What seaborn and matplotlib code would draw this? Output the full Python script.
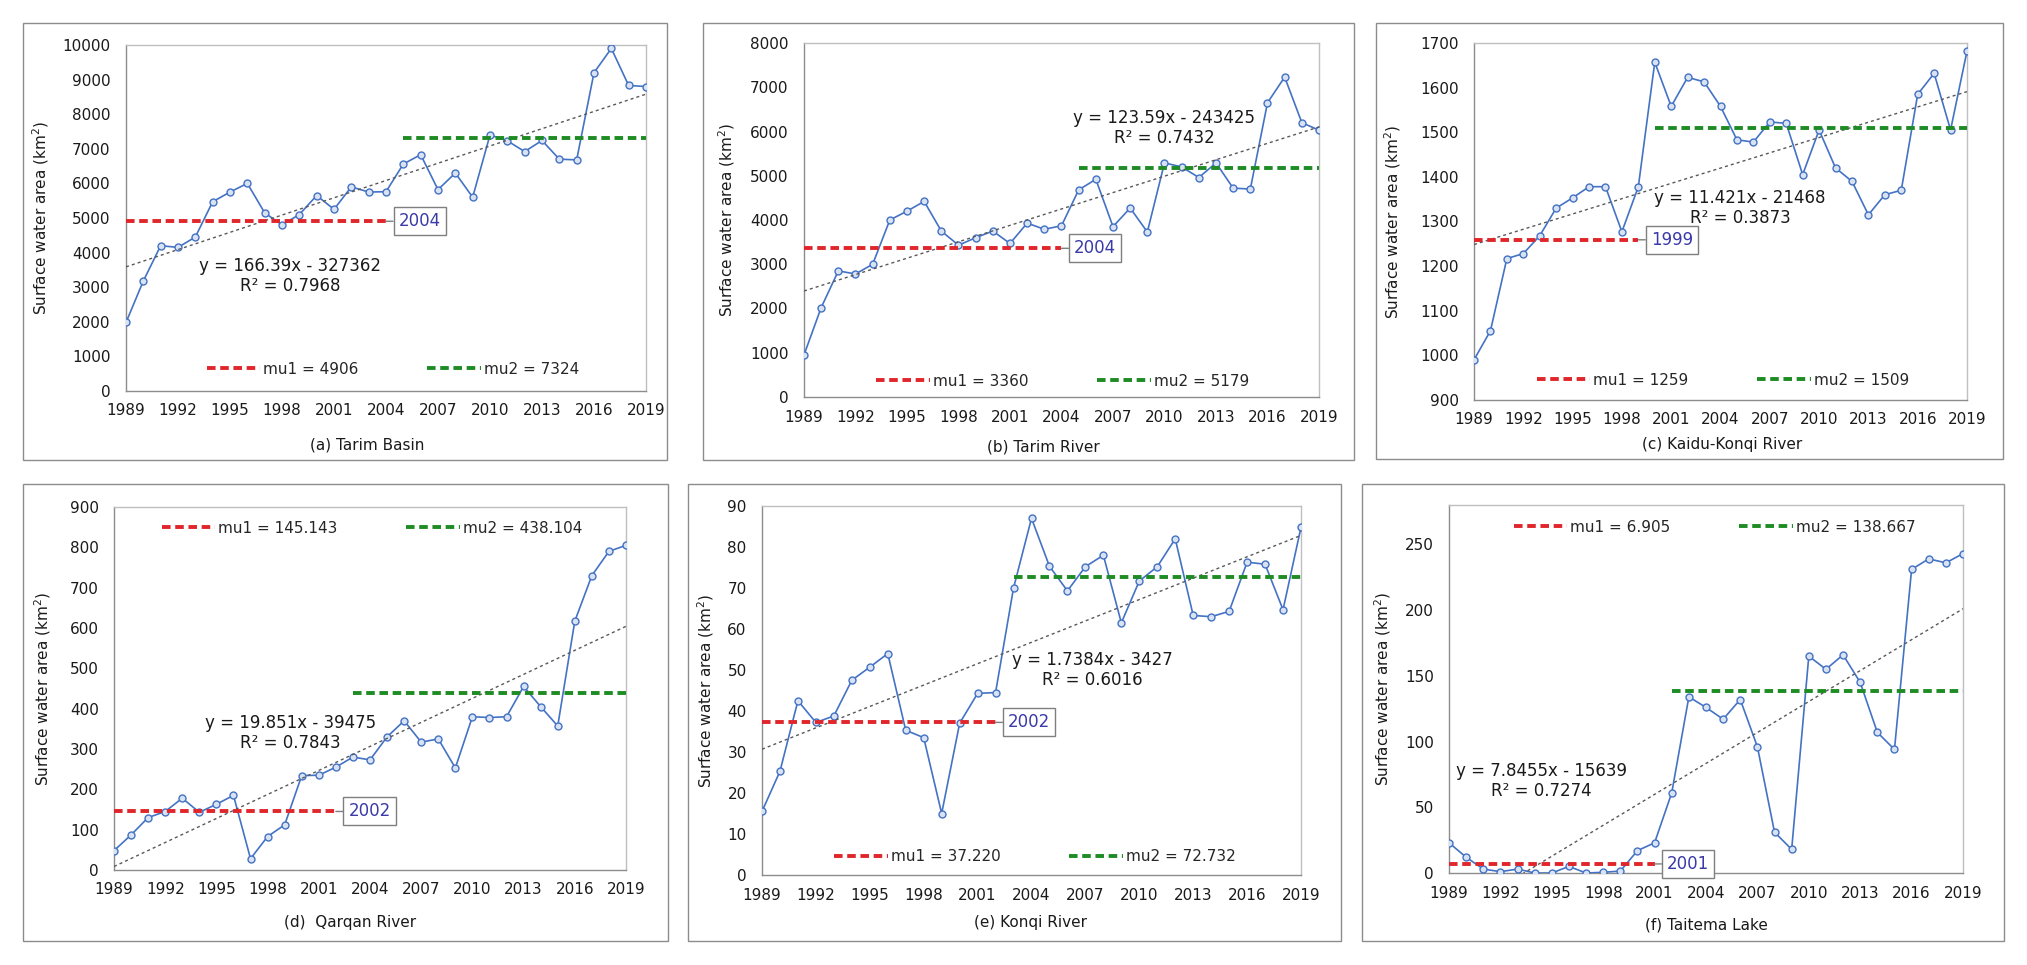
import numpy as np
import pandas as pd
import matplotlib
matplotlib.use("Agg")
import matplotlib.pyplot as plt
import seaborn as sns
from matplotlib.lines import Line2D
from matplotlib.patches import Rectangle

# ---------------- data ----------------
years = list(range(1989, 2020))

tarim_basin = [1980, 3180, 4200, 4150, 4450, 5470, 5750, 6000, 5150, 4800,
               5100, 5650, 5250, 5900, 5750, 5760, 6560, 6830, 5820, 6300,
               5600, 7400, 7230, 6920, 7240, 6700, 6680, 9200, 9900, 8830, 8800]
tarim_river = [950, 2020, 2850, 2780, 3000, 4000, 4200, 4420, 3750, 3430,
               3600, 3750, 3470, 3930, 3790, 3870, 4680, 4920, 3850, 4270,
               3730, 5290, 5200, 4960, 5290, 4720, 4700, 6650, 7230, 6200, 6030]
kaidu_konqi = [990, 1055, 1217, 1228, 1268, 1330, 1353, 1378, 1378, 1277,
               1378, 1657, 1558, 1623, 1613, 1558, 1483, 1478, 1523, 1520,
               1405, 1505, 1420, 1390, 1315, 1360, 1370, 1585, 1632, 1505, 1682]
qarqan = [48, 87, 130, 145, 178, 143, 163, 185, 28, 83,
          112, 234, 235, 255, 280, 273, 330, 370, 317, 325,
          253, 380, 378, 380, 455, 405, 357, 617, 730, 790, 805]
konqi = [15.5, 25.3, 42.5, 37.2, 38.8, 47.5, 50.7, 54.0, 35.3, 33.5,
         15.0, 37.0, 44.3, 44.5, 70.0, 87.0, 75.3, 69.3, 75.2, 78.0,
         61.5, 71.7, 75.2, 82.0, 63.3, 63.0, 64.3, 76.3, 75.8, 64.7, 84.8]
taitema = [23, 12, 3, 1, 3, 0, 0, 5, 0, 0.5,
           1.5, 17, 23, 61, 134, 126, 117, 132, 96, 31,
           18, 165, 155, 166, 145, 107, 94, 231, 239, 236, 243]

series = [tarim_basin, tarim_river, kaidu_konqi, qarqan, konqi, taitema]
titles = ["(a) Tarim Basin", "(b) Tarim River", "(c) Kaidu-Konqi River",
          "(d)  Qarqan River", "(e) Konqi River", "(f) Taitema Lake"]
mu1 = [4906, 3360, 1259, 145.143, 37.220, 6.905]
mu1_txt = ["4906", "3360", "1259", "145.143", "37.220", "6.905"]
mu2 = [7324, 5179, 1509, 438.104, 72.732, 138.667]
mu2_txt = ["7324", "5179", "1509", "438.104", "72.732", "138.667"]
change_year = [2004, 2004, 1999, 2002, 2002, 2001]
slope = [166.39, 123.59, 11.421, 19.851, 1.7384, 7.8455]
intercept = [-327362, -243425, -21468, -39475, -3427, -15639]
r2_txt = ["0.7968", "0.7432", "0.3873", "0.7843", "0.6016", "0.7274"]
xticks = list(range(1989, 2020, 3))

# ---------------- layout / style ----------------
W, H = 2027, 965
axes_px = [(126, 646, 45, 391), (804, 1319, 43, 397), (1474, 1967, 43, 400),
           (114, 626, 507, 870), (762, 1301, 506, 875), (1449, 1963, 505, 873)]
box_px = [(23, 667, 23, 460), (703, 1354, 23, 460), (1376, 2003, 23, 459),
          (23, 668, 484, 941), (688, 1341, 484, 941), (1362, 2004, 484, 941)]
ylims = [(0, 10000), (0, 8000), (900, 1700), (0, 900), (0, 90), (0, 280)]
ystep = [1000, 1000, 100, 100, 10, 50]
ytop_tick = [10000, 8000, 1700, 900, 90, 250]
eq_pos = [(0.315, 0.333), (0.70, 0.76), (0.54, 0.537),
          (0.345, 0.377), (0.613, 0.556), (0.18, 0.249)]
leg_pos = [(0.513, 0.063), (0.502, 0.045), (0.505, 0.056),
           (0.504, 0.942), (0.506, 0.049), (0.517, 0.94)]
ylab_px = [41, 727, 1393, 43, 706, 1383]
title_px = [(367, 445), (1043, 447), (1722, 445), (350, 923), (1031, 923), (1706, 925)]

blue = "#4472C4"
red = "#E0262B"
green = "#1E8B24"
gray_axis = "#8C8C8C"
callout_col = "#3A3AA8"

sns.set_style("white")
plt.rcParams["font.family"] = ["DejaVu Sans"]

fig = plt.figure(figsize=(W / 100, H / 100), dpi=100)

for i in range(6):
    x0, x1, y0, y1 = axes_px[i]
    ax = fig.add_axes([x0 / W, 1 - y1 / H, (x1 - x0) / W, (y1 - y0) / H])

    # panel frame
    bx0, bx1, by0, by1 = box_px[i]
    fig.patches.append(Rectangle((bx0 / W, 1 - by1 / H), (bx1 - bx0) / W, (by1 - by0) / H,
                                 transform=fig.transFigure, fill=False,
                                 edgecolor="#8C8C8C", linewidth=1.0))

    df = pd.DataFrame({"year": years, "area": series[i]})
    sns.lineplot(data=df, x="year", y="area", ax=ax, color=blue, linewidth=1.2,
                 marker="o", markersize=5, markerfacecolor="#D9E2F3",
                 markeredgecolor=blue, markeredgewidth=1.0, zorder=3)

    # trend line from displayed equation
    yr = np.array(years, dtype=float)
    ax.plot(yr, slope[i] * yr + intercept[i], color="#595959",
            linestyle=(0, (2.2, 2.2)), linewidth=1.0, zorder=4)

    # mean lines
    ax.hlines(mu1[i], years[0], change_year[i], colors=red, linewidth=2.8,
              linestyles=[(0, (2.2, 1.2))], zorder=5)
    ax.hlines(mu2[i], change_year[i] + 1, years[-1], colors=green, linewidth=2.8,
              linestyles=[(0, (2.2, 1.2))], zorder=5)

    # change-point callout
    ax.annotate(str(change_year[i]), xy=(change_year[i], mu1[i]), xytext=(9, 0),
                textcoords="offset points", ha="left", va="center",
                fontsize=12, color=callout_col, zorder=6,
                bbox=dict(boxstyle="square,pad=0.3", fc="white", ec="#7F7F7F", lw=1.0),
                arrowprops=dict(arrowstyle="-", color="#7F7F7F", lw=1.0,
                                shrinkA=0, shrinkB=0))

    # equation
    eq = f"y = {slope[i]}x - {abs(intercept[i])}\nR\u00b2 = {r2_txt[i]}"
    ax.text(eq_pos[i][0], eq_pos[i][1], eq, transform=ax.transAxes,
            ha="center", va="center", fontsize=12, linespacing=1.15,
            color="#1a1a1a", zorder=7)

    # legend
    handles = [Line2D([], [], color=red, linewidth=2.8, linestyle=(0, (2.2, 1.2)),
                      label=f"mu1 = {mu1_txt[i]}"),
               Line2D([], [], color=green, linewidth=2.8, linestyle=(0, (2.2, 1.2)),
                      label=f"mu2 = {mu2_txt[i]}")]
    ax.legend(handles=handles, loc="center", bbox_to_anchor=leg_pos[i], ncol=2,
              frameon=False, fontsize=11, handlelength=3.5, handletextpad=0.2,
              columnspacing=4.5, borderaxespad=0, borderpad=0)

    # axes formatting
    ax.set_xlim(years[0], years[-1])
    ax.set_ylim(*ylims[i])
    ax.set_xticks(xticks)
    ax.set_yticks(np.arange(ylims[i][0], ytop_tick[i] + 1e-9, ystep[i]))
    ax.yaxis.set_major_formatter(matplotlib.ticker.FuncFormatter(lambda v, p: f"{v:g}"))
    ax.tick_params(axis="both", direction="inout", length=8, width=0.8,
                   color=gray_axis, labelsize=11, labelcolor="#1a1a1a")
    ax.tick_params(axis="y", pad=7)
    ax.tick_params(axis="x", pad=5)
    for s in ["top", "right"]:
        ax.spines[s].set_color("#BFBFBF")
        ax.spines[s].set_linewidth(1.0)
    for s in ["left", "bottom"]:
        ax.spines[s].set_color(gray_axis)
        ax.spines[s].set_linewidth(1.0)
    ax.grid(False)

    ax.set_ylabel("Surface water area (km$^2$)", fontsize=11, va="center",
                  color="#1a1a1a")
    ax.yaxis.set_label_coords((ylab_px[i] - x0) / (x1 - x0), 0.5)
    ax.set_xlabel(titles[i], fontsize=11, va="center", color="#1a1a1a")
    tx, ty = title_px[i]
    ax.xaxis.set_label_coords((tx - x0) / (x1 - x0), (y1 - ty) / (y1 - y0))

fig.savefig("out.png", dpi=100)
